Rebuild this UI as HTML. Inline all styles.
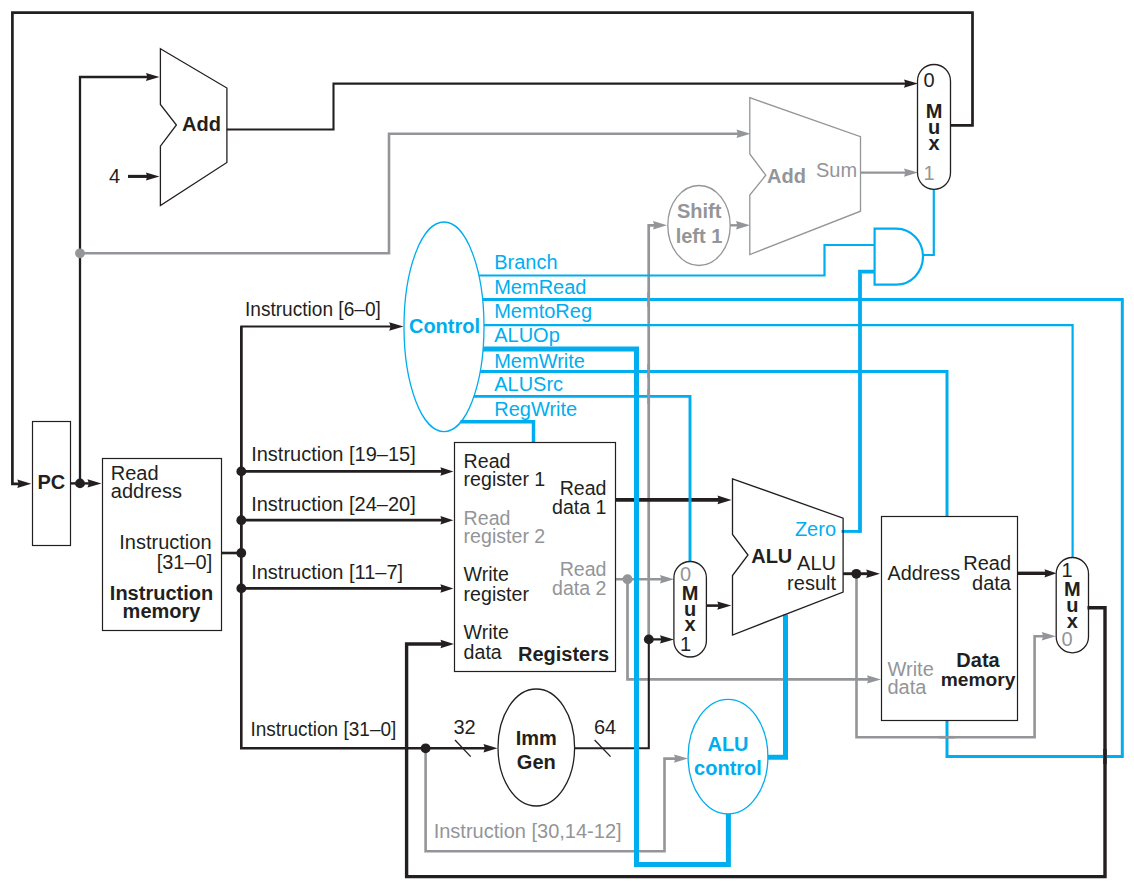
<!DOCTYPE html>
<html><head><meta charset="utf-8"><title>Datapath</title>
<style>
html,body{margin:0;padding:0;background:#fff;}
body{width:1134px;height:886px;overflow:hidden;}
svg{display:block;font-family:"Liberation Sans",sans-serif;}
</style></head><body>
<svg width="1134" height="886" viewBox="0 0 1134 886">
<rect width="1134" height="886" fill="#fff"/>
<path d="M80 253.3 H389 V133.8 H742" fill="none" stroke="#939598" stroke-width="2.6" stroke-linejoin="miter"/>
<polygon points="750.50,133.80 736.50,129.60 737.90,133.80 736.50,138.00" fill="#939598"/>
<path d="M860.5 172.6 H910" fill="none" stroke="#939598" stroke-width="2.4" stroke-linejoin="miter"/>
<polygon points="918.00,172.60 904.00,168.40 905.40,172.60 904.00,176.80" fill="#939598"/>
<path d="M648.7 639 V225.3 H659" fill="none" stroke="#939598" stroke-width="2.7" stroke-linejoin="miter"/>
<polygon points="667.00,225.30 653.00,221.10 654.40,225.30 653.00,229.50" fill="#939598"/>
<path d="M729.4 225.3 H742" fill="none" stroke="#939598" stroke-width="2.4" stroke-linejoin="miter"/>
<polygon points="750.00,225.30 736.00,221.10 737.40,225.30 736.00,229.50" fill="#939598"/>
<path d="M615.5 579.3 H666" fill="none" stroke="#939598" stroke-width="2.6" stroke-linejoin="miter"/>
<polygon points="674.00,579.30 660.00,575.10 661.40,579.30 660.00,583.50" fill="#939598"/>
<path d="M627.5 579.3 V679.4 H873" fill="none" stroke="#939598" stroke-width="2.7" stroke-linejoin="miter"/>
<polygon points="881.00,679.40 867.00,675.20 868.40,679.40 867.00,683.60" fill="#939598"/>
<path d="M856.5 573.7 V737.2 H1034.6 V636.2 H1047" fill="none" stroke="#939598" stroke-width="2.6" stroke-linejoin="miter"/>
<polygon points="1055.80,636.20 1041.80,632.00 1043.20,636.20 1041.80,640.40" fill="#939598"/>
<path d="M425.6 748.3 V851.2 H664.5 V758.6 H680" fill="none" stroke="#939598" stroke-width="2.6" stroke-linejoin="miter"/>
<polygon points="688.00,758.60 674.00,754.40 675.40,758.60 674.00,762.80" fill="#939598"/>
<path d="M950.5 125.3 H972.5 V12.6 H12.4 V483.8 H24" fill="none" stroke="#231f20" stroke-width="2.7" stroke-linejoin="miter"/>
<polygon points="31.30,483.80 17.30,479.60 18.70,483.80 17.30,488.00" fill="#231f20"/>
<path d="M70.3 483.4 H95" fill="none" stroke="#231f20" stroke-width="2.4" stroke-linejoin="miter"/>
<polygon points="101.50,483.40 87.50,479.20 88.90,483.40 87.50,487.60" fill="#231f20"/>
<path d="M80 483.4 V77 H150" fill="none" stroke="#231f20" stroke-width="2.3" stroke-linejoin="miter"/>
<polygon points="159.50,77.00 146.00,72.90 147.35,77.00 146.00,81.10" fill="#231f20"/>
<path d="M128 176.4 H150" fill="none" stroke="#231f20" stroke-width="3.1" stroke-linejoin="miter"/>
<polygon points="159.50,176.40 145.90,172.40 147.26,176.40 145.90,180.40" fill="#231f20"/>
<path d="M226.7 129.5 H333.5 V83.6 H910" fill="none" stroke="#231f20" stroke-width="2.1" stroke-linejoin="miter"/>
<polygon points="918.00,83.60 904.00,79.40 905.40,83.60 904.00,87.80" fill="#231f20"/>
<path d="M241.3 553 V326.5 H395" fill="none" stroke="#231f20" stroke-width="2.1" stroke-linejoin="miter"/>
<polygon points="403.50,326.50 389.20,322.20 390.63,326.50 389.20,330.80" fill="#231f20"/>
<path d="M221.5 553 H241.3" fill="none" stroke="#231f20" stroke-width="2.6" stroke-linejoin="miter"/>
<path d="M241.3 326.5 V748.3 H489" fill="none" stroke="#231f20" stroke-width="2.6" stroke-linejoin="miter"/>
<polygon points="497.50,748.30 483.50,744.10 484.90,748.30 483.50,752.50" fill="#231f20"/>
<path d="M241.3 471.4 H442" fill="none" stroke="#231f20" stroke-width="2.8" stroke-linejoin="miter"/>
<polygon points="453.40,471.40 440.40,467.15 441.70,471.40 440.40,475.65" fill="#231f20"/>
<path d="M241.3 520.2 H442" fill="none" stroke="#231f20" stroke-width="2.8" stroke-linejoin="miter"/>
<polygon points="453.40,520.20 440.40,515.95 441.70,520.20 440.40,524.45" fill="#231f20"/>
<path d="M241.3 588.4 H442" fill="none" stroke="#231f20" stroke-width="2.8" stroke-linejoin="miter"/>
<polygon points="453.40,588.40 440.40,584.15 441.70,588.40 440.40,592.65" fill="#231f20"/>
<path d="M615.5 499.9 H720" fill="none" stroke="#231f20" stroke-width="3.6" stroke-linejoin="miter"/>
<polygon points="731.50,499.90 717.50,495.60 718.90,499.90 717.50,504.20" fill="#231f20"/>
<path d="M1087.5 607.8 H1105 V876.6 H406.6 V644 H442" fill="none" stroke="#231f20" stroke-width="3.4" stroke-linejoin="miter"/>
<polygon points="454.00,644.00 440.50,639.75 441.85,644.00 440.50,648.25" fill="#231f20"/>
<path d="M574.5 748.2 H648.8 V639.4 H666" fill="none" stroke="#231f20" stroke-width="2.1" stroke-linejoin="miter"/>
<polygon points="674.00,639.40 660.00,635.20 661.40,639.40 660.00,643.60" fill="#231f20"/>
<path d="M706.4 605.6 H723" fill="none" stroke="#231f20" stroke-width="2.6" stroke-linejoin="miter"/>
<polygon points="731.30,605.60 717.30,601.40 718.70,605.60 717.30,609.80" fill="#231f20"/>
<path d="M843 573.7 H870" fill="none" stroke="#231f20" stroke-width="2.9" stroke-linejoin="miter"/>
<polygon points="880.00,573.70 866.20,569.45 867.58,573.70 866.20,577.95" fill="#231f20"/>
<path d="M1017.3 573.3 H1046" fill="none" stroke="#231f20" stroke-width="3.4" stroke-linejoin="miter"/>
<polygon points="1056.50,573.30 1044.50,569.20 1045.70,573.30 1044.50,577.40" fill="#231f20"/>
<path d="M455 740 L470.7 756.6" fill="none" stroke="#231f20" stroke-width="1.3" stroke-linejoin="miter"/>
<path d="M594.6 740 L610.6 756.6" fill="none" stroke="#231f20" stroke-width="1.3" stroke-linejoin="miter"/>
<path d="M874.6 228.6 H896.4 A26.6 28 0 0 1 896.4 284.6 H874.6 Z" fill="none" stroke="#00aeef" stroke-width="2.2" stroke-linejoin="miter"/>
<path d="M478.9 275.5 H824.5 V245 H874.6" fill="none" stroke="#00aeef" stroke-width="2.2" stroke-linejoin="miter"/>
<path d="M841.5 531.4 H861" fill="none" stroke="#00aeef" stroke-width="2.9" stroke-linejoin="miter"/>
<path d="M860 532.8 V271.6 H874.6" fill="none" stroke="#00aeef" stroke-width="3.8" stroke-linejoin="miter"/>
<path d="M922.8 255 H933.8 V189.3" fill="none" stroke="#00aeef" stroke-width="2.2" stroke-linejoin="miter"/>
<path d="M482.6 299.4 H1122.3 V756.5 H947 V720.4" fill="none" stroke="#00aeef" stroke-width="3" stroke-linejoin="miter"/>
<path d="M484 325.2 H1072.6 V557.5" fill="none" stroke="#00aeef" stroke-width="2.2" stroke-linejoin="miter"/>
<path d="M483 349 H636.5 V864.6 H728.4 V814" fill="none" stroke="#00aeef" stroke-width="5" stroke-linejoin="miter"/>
<path d="M480.2 371.6 H947 V516.5" fill="none" stroke="#00aeef" stroke-width="3" stroke-linejoin="miter"/>
<path d="M474 396.4 H690 V561.5" fill="none" stroke="#00aeef" stroke-width="2.9" stroke-linejoin="miter"/>
<path d="M460.5 421.8 H533.5 V442.5" fill="none" stroke="#00aeef" stroke-width="3.5" stroke-linejoin="miter"/>
<path d="M767.8 757.2 H785.5 V614.5" fill="none" stroke="#00aeef" stroke-width="5" stroke-linejoin="miter"/>
<rect x="32.5" y="421.5" width="38" height="124" fill="none" stroke="#231f20" stroke-width="1.2"/>
<path d="M160.4 48.7 L226.9 88 V162.5 L160.4 205.5 V146.2 L176.4 125 L160.4 104.5 Z" fill="none" stroke="#231f20" stroke-width="1.3"/>
<path d="M749.8 97.7 L860.5 136.7 V211.2 L749.8 254.5 V195 L765.8 175.2 L749.8 154 Z" fill="none" stroke="#939598" stroke-width="1.3"/>
<ellipse cx="699" cy="225.5" rx="31.2" ry="40" fill="white" stroke="#939598" stroke-width="1.3"/>
<rect x="917.5" y="64.5" width="33" height="124.8" rx="16.5" ry="16.5" fill="none" stroke="#231f20" stroke-width="1.3"/>
<ellipse cx="444" cy="326.8" rx="40" ry="104.8" fill="none" stroke="#00aeef" stroke-width="1.3"/>
<rect x="102.5" y="458.5" width="119" height="172" fill="none" stroke="#231f20" stroke-width="1.2"/>
<rect x="454.5" y="442.5" width="161" height="229" fill="none" stroke="#231f20" stroke-width="1.2"/>
<rect x="673.9" y="561.5" width="32.5" height="95.5" rx="16.2" ry="16.2" fill="none" stroke="#231f20" stroke-width="1.3"/>
<path d="M732.5 478.8 L843.1 518.2 V592 L732.5 635 V575.5 L748 555 L732.5 534.5 Z" fill="none" stroke="#231f20" stroke-width="1.3"/>
<rect x="881.5" y="516.5" width="136" height="204" fill="none" stroke="#231f20" stroke-width="1.2"/>
<rect x="1056.2" y="557.5" width="32.3" height="95.3" rx="16.1" ry="16.1" fill="none" stroke="#231f20" stroke-width="1.3"/>
<ellipse cx="536.3" cy="747.5" rx="38.3" ry="58.5" fill="none" stroke="#231f20" stroke-width="1.3"/>
<ellipse cx="728" cy="756.7" rx="39.9" ry="57.3" fill="none" stroke="#00aeef" stroke-width="1.3"/>
<circle cx="80" cy="483.4" r="4.9" fill="#231f20"/>
<circle cx="241.3" cy="471.4" r="4.9" fill="#231f20"/>
<circle cx="241.3" cy="520.2" r="4.9" fill="#231f20"/>
<circle cx="241.3" cy="553" r="4.9" fill="#231f20"/>
<circle cx="241.3" cy="588.4" r="4.9" fill="#231f20"/>
<circle cx="648.8" cy="639.4" r="4.9" fill="#231f20"/>
<circle cx="856.3" cy="573.8" r="4.9" fill="#231f20"/>
<circle cx="425.6" cy="748.3" r="4.9" fill="#231f20"/>
<circle cx="80" cy="253.3" r="4.9" fill="#939598"/>
<circle cx="627.5" cy="579.3" r="5" fill="#939598"/>
<path d="M648.7 292 V307" fill="none" stroke="#939598" stroke-width="2.7" stroke-linejoin="miter"/>
<path d="M648.7 364 V378" fill="none" stroke="#939598" stroke-width="2.7" stroke-linejoin="miter"/>
<path d="M648.7 389 V404" fill="none" stroke="#939598" stroke-width="2.7" stroke-linejoin="miter"/>
<path d="M939 737.2 H955" fill="none" stroke="#939598" stroke-width="2.6" stroke-linejoin="miter"/>
<path d="M1105 749 V764" fill="none" stroke="#231f20" stroke-width="3.4" stroke-linejoin="miter"/>
<text x="51.4" y="488.6" fill="#231f20" font-size="20.0" font-weight="bold" text-anchor="middle">PC</text>
<text x="182" y="130.5" fill="#231f20" font-size="20.0" font-weight="bold" text-anchor="start">Add</text>
<text x="109" y="182.8" fill="#231f20" font-size="20.0" text-anchor="start">4</text>
<text x="767" y="182.5" fill="#939598" font-size="20.0" font-weight="bold" text-anchor="start">Add</text>
<text x="816" y="177" fill="#939598" font-size="20.0" text-anchor="start">Sum</text>
<text x="699.2" y="218" fill="#939598" font-size="20.0" font-weight="bold" text-anchor="middle">Shift</text>
<text x="699" y="243" fill="#939598" font-size="20.0" font-weight="bold" text-anchor="middle">left 1</text>
<text x="929" y="86.7" fill="#231f20" font-size="20.0" text-anchor="middle">0</text>
<text x="934" y="117.5" fill="#231f20" font-size="20.0" font-weight="bold" text-anchor="middle">M</text>
<text x="934" y="133.7" fill="#231f20" font-size="20.0" font-weight="bold" text-anchor="middle">u</text>
<text x="934" y="149.5" fill="#231f20" font-size="20.0" font-weight="bold" text-anchor="middle">x</text>
<text x="929" y="179.5" fill="#939598" font-size="20.0" text-anchor="middle">1</text>
<text x="444.5" y="332.5" fill="#00aeef" font-size="20.0" font-weight="bold" text-anchor="middle">Control</text>
<text x="245" y="315.6" fill="#231f20" font-size="20.0" text-anchor="start" textLength="135.8" lengthAdjust="spacingAndGlyphs">Instruction [6–0]</text>
<text x="494.2" y="268.7" fill="#00aeef" font-size="20.0" text-anchor="start">Branch</text>
<text x="494.2" y="293.7" fill="#00aeef" font-size="20.0" text-anchor="start">MemRead</text>
<text x="494.2" y="317.8" fill="#00aeef" font-size="20.0" text-anchor="start">MemtoReg</text>
<text x="494.2" y="342.4" fill="#00aeef" font-size="20.0" text-anchor="start">ALUOp</text>
<text x="494.2" y="367.5" fill="#00aeef" font-size="20.0" text-anchor="start">MemWrite</text>
<text x="494.2" y="390.6" fill="#00aeef" font-size="20.0" text-anchor="start">ALUSrc</text>
<text x="494.2" y="415.8" fill="#00aeef" font-size="20.0" text-anchor="start">RegWrite</text>
<text x="110.8" y="480" fill="#231f20" font-size="20.0" text-anchor="start">Read</text>
<text x="110.8" y="498" fill="#231f20" font-size="20.0" text-anchor="start">address</text>
<text x="211.5" y="549.1" fill="#231f20" font-size="20.0" text-anchor="end">Instruction</text>
<text x="212.3" y="569.4" fill="#231f20" font-size="20.0" text-anchor="end">[31–0]</text>
<text x="161.5" y="600" fill="#231f20" font-size="20.0" font-weight="bold" text-anchor="middle">Instruction</text>
<text x="161.5" y="618.3" fill="#231f20" font-size="20.0" font-weight="bold" text-anchor="middle">memory</text>
<text x="251.2" y="461.3" fill="#231f20" font-size="20.0" text-anchor="start">Instruction [19–15]</text>
<text x="251.2" y="510.6" fill="#231f20" font-size="20.0" text-anchor="start">Instruction [24–20]</text>
<text x="251.2" y="578.8" fill="#231f20" font-size="20.0" text-anchor="start">Instruction [11–7]</text>
<text x="250.4" y="735.6" fill="#231f20" font-size="20.0" text-anchor="start" textLength="146" lengthAdjust="spacingAndGlyphs">Instruction [31–0]</text>
<text x="463.6" y="467.6" fill="#231f20" font-size="19.6" text-anchor="start">Read</text>
<text x="463.6" y="486.4" fill="#231f20" font-size="19.6" text-anchor="start">register 1</text>
<text x="463.6" y="524.7" fill="#939598" font-size="19.6" text-anchor="start">Read</text>
<text x="463.6" y="543.2" fill="#939598" font-size="19.6" text-anchor="start">register 2</text>
<text x="463.6" y="581.4" fill="#231f20" font-size="19.6" text-anchor="start">Write</text>
<text x="463.6" y="601.0" fill="#231f20" font-size="19.6" text-anchor="start">register</text>
<text x="463.6" y="638.5" fill="#231f20" font-size="19.6" text-anchor="start">Write</text>
<text x="463.6" y="658.9" fill="#231f20" font-size="19.6" text-anchor="start">data</text>
<text x="518" y="661.0" fill="#231f20" font-size="20.0" font-weight="bold" text-anchor="start">Registers</text>
<text x="606.5" y="494.7" fill="#231f20" font-size="19.6" text-anchor="end">Read</text>
<text x="606.5" y="514.4" fill="#231f20" font-size="19.6" text-anchor="end">data 1</text>
<text x="606.5" y="575.8" fill="#939598" font-size="19.6" text-anchor="end">Read</text>
<text x="606.5" y="594.9" fill="#939598" font-size="19.6" text-anchor="end">data 2</text>
<text x="685.5" y="580.5" fill="#939598" font-size="20.0" text-anchor="middle">0</text>
<text x="690" y="599.5" fill="#231f20" font-size="20.0" font-weight="bold" text-anchor="middle">M</text>
<text x="690" y="615.7" fill="#231f20" font-size="20.0" font-weight="bold" text-anchor="middle">u</text>
<text x="690" y="631.3" fill="#231f20" font-size="20.0" font-weight="bold" text-anchor="middle">x</text>
<text x="685.5" y="650.5" fill="#231f20" font-size="20.0" text-anchor="middle">1</text>
<text x="751.2" y="562.6" fill="#231f20" font-size="20.0" font-weight="bold" text-anchor="start">ALU</text>
<text x="836" y="570" fill="#231f20" font-size="20.0" text-anchor="end">ALU</text>
<text x="836" y="590" fill="#231f20" font-size="20.0" text-anchor="end">result</text>
<text x="836" y="535.5" fill="#00aeef" font-size="20.0" text-anchor="end">Zero</text>
<text x="887.5" y="579.8" fill="#231f20" font-size="19.8" text-anchor="start">Address</text>
<text x="1011" y="570.3" fill="#231f20" font-size="20.0" text-anchor="end">Read</text>
<text x="1011" y="590.3" fill="#231f20" font-size="20.0" text-anchor="end">data</text>
<text x="887.5" y="675.6" fill="#939598" font-size="20.0" text-anchor="start">Write</text>
<text x="887.5" y="693.6" fill="#939598" font-size="20.0" text-anchor="start">data</text>
<text x="978" y="666.6" fill="#231f20" font-size="20.0" font-weight="bold" text-anchor="middle">Data</text>
<text x="978" y="686.3" fill="#231f20" font-size="19.2" font-weight="bold" text-anchor="middle">memory</text>
<text x="1067" y="576.6" fill="#231f20" font-size="20.0" text-anchor="middle">1</text>
<text x="1072.3" y="596" fill="#231f20" font-size="20.0" font-weight="bold" text-anchor="middle">M</text>
<text x="1072.3" y="612" fill="#231f20" font-size="20.0" font-weight="bold" text-anchor="middle">u</text>
<text x="1072.3" y="628" fill="#231f20" font-size="20.0" font-weight="bold" text-anchor="middle">x</text>
<text x="1067" y="646.3" fill="#939598" font-size="20.0" text-anchor="middle">0</text>
<text x="536.3" y="744.6" fill="#231f20" font-size="20.0" font-weight="bold" text-anchor="middle">Imm</text>
<text x="536.3" y="768.6" fill="#231f20" font-size="20.0" font-weight="bold" text-anchor="middle">Gen</text>
<text x="453.5" y="733.5" fill="#231f20" font-size="20.0" text-anchor="start">32</text>
<text x="594" y="733.5" fill="#231f20" font-size="20.0" text-anchor="start">64</text>
<text x="433.7" y="838.3" fill="#939598" font-size="20.0" text-anchor="start">Instruction [30,14-12]</text>
<text x="728" y="751.2" fill="#00aeef" font-size="20.0" font-weight="bold" text-anchor="middle">ALU</text>
<text x="728" y="775" fill="#00aeef" font-size="20.0" font-weight="bold" text-anchor="middle">control</text>
</svg>
</body></html>
